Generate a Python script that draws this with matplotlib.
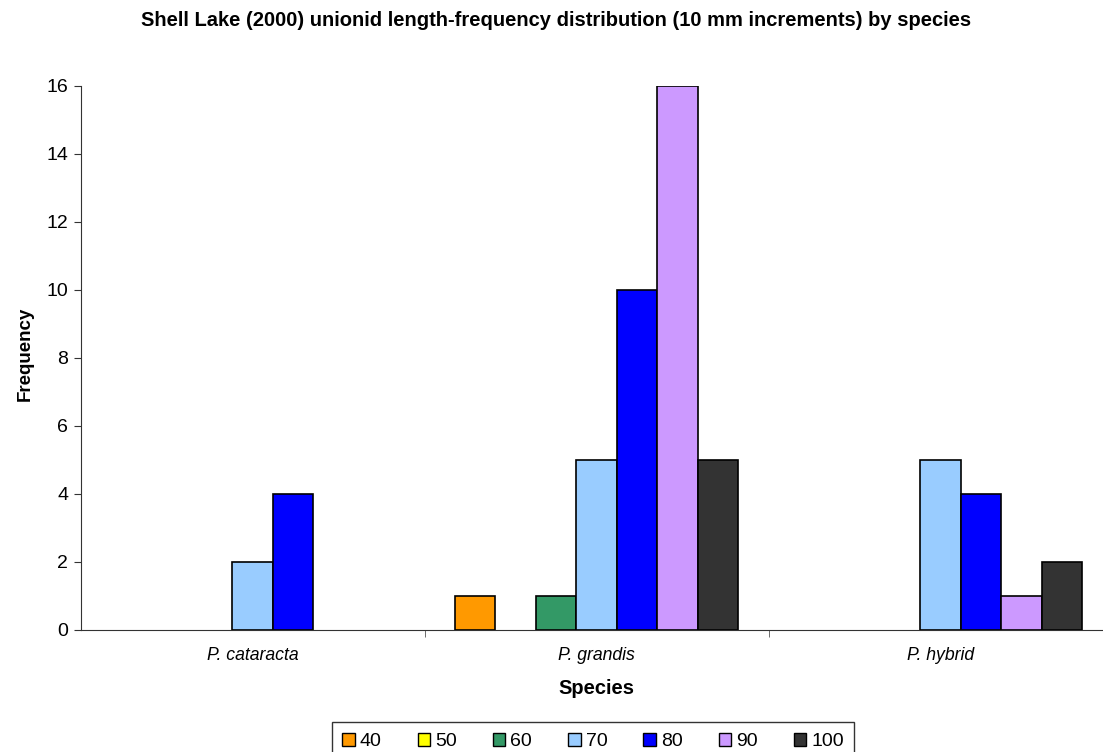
import numpy as np
import matplotlib.pyplot as plt
from matplotlib.patches import Patch

plt.rcParams['font.family'] = ['Liberation Sans', 'DejaVu Sans']

species = ['P. cataracta', 'P. grandis', 'P. hybrid']
size_classes = ['40', '50', '60', '70', '80', '90', '100']
counts = {
    '40': [0, 1, 0],
    '50': [0, 0, 0],
    '60': [0, 1, 0],
    '70': [2, 5, 5],
    '80': [4, 10, 4],
    '90': [0, 16, 1],
    '100': [0, 5, 2],
}
colors = ['#FF9900', '#FFFF00', '#339966', '#99CCFF', '#0000FF', '#CC99FF', '#333333']

fig = plt.figure(figsize=(11.03, 7.52), dpi=100)
# axes run off the right edge, as in the original
ax = fig.add_axes([80.5 / 1103, 122 / 752, 1032 / 1103, 544 / 752])

x = np.arange(len(species))
bw = 0.1177
for i, sc in enumerate(size_classes):
    vals = np.array(counts[sc])
    pos = x + (i - 3) * bw
    bars = ax.bar(pos, vals, width=bw, color=colors[i], edgecolor='black',
                  linewidth=1.2)
    # zero-height bars are not drawn
    for b, v in zip(bars, vals):
        if v == 0:
            b.set_visible(False)

ax.set_xlim(-0.5, 2.5)
ax.set_ylim(0, 16)
ax.set_yticks(range(0, 17, 2))
ax.set_xticks(x)
ax.set_xticklabels(species, fontstyle='italic', fontsize=12.7)
ax.set_xticks([0.5, 1.5], minor=True)
ax.tick_params(axis='x', which='major', length=0, pad=12)
ax.tick_params(axis='x', which='minor', length=5, direction='out', color='#555555')
ax.tick_params(axis='y', labelsize=14, length=5, direction='out', color='#333333', pad=4)

for s in ['top', 'right']:
    ax.spines[s].set_visible(False)
ax.spines['left'].set_color('#333333')
ax.spines['bottom'].set_color('#333333')

ax.set_xlabel('Species', fontsize=14.5, fontweight='bold')
ax.set_ylabel('Frequency', fontsize=13.5, fontweight='bold')
ax.xaxis.set_label_coords((596.5 - 80.5) / 1032, (630 - 688) / 544)
ax.xaxis.label.set_verticalalignment('center')
ax.yaxis.set_label_coords((25 - 80.5) / 1032, (630 - 354) / 544)
ax.yaxis.label.set_verticalalignment('center')

fig.text(556 / 1103, 1 - 20 / 752,
         'Shell Lake (2000) unionid length-frequency distribution (10 mm increments) by species',
         ha='center', va='center', fontsize=14.5, fontweight='bold')

handles = [Patch(facecolor=c, edgecolor='black', linewidth=1.0) for c in colors]
leg = fig.legend(handles, size_classes, loc='upper center',
                 bbox_to_anchor=(593 / 1103, 1 - 722 / 752), ncol=7,
                 fontsize=14, frameon=True, fancybox=False, edgecolor='black',
                 handlelength=0.65, handleheight=0.65, handletextpad=0.25,
                 columnspacing=1.85, borderpad=0.55, borderaxespad=0)
leg.get_frame().set_linewidth(1.0)

fig.savefig('out.png', dpi=100)
